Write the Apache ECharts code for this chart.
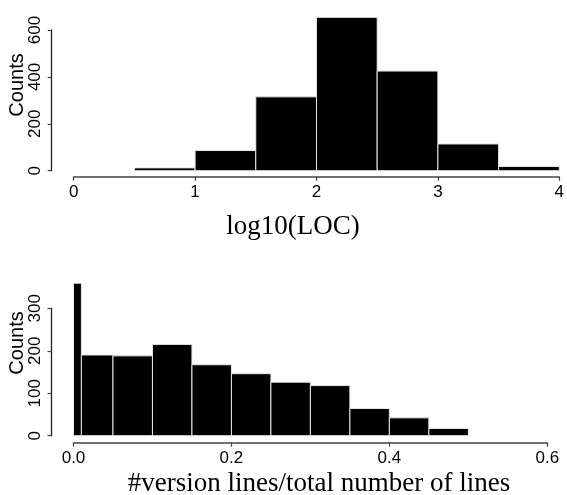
<!DOCTYPE html>
<html>
<head>
<meta charset="utf-8">
<script src="https://cdn.jsdelivr.net/npm/echarts@6/dist/echarts.min.js"></script>
<style>
  html, body { margin: 0; padding: 0; background: #fff; }
  #chart { width: 567px; height: 495px; }
</style>
</head>
<body>
<div id="chart"></div>
<script>
// top histogram: log10(LOC)
const locEdges = [0, 0.5, 1, 1.5, 2, 2.5, 3, 3.5, 4]
const locCounts = [0, 12, 86, 315, 654, 425, 114, 18]
const locTicks = [0, 1, 2, 3, 4]

// bottom histogram: version lines ratio
const ratioEdges = [0, 0.01, 0.05, 0.1, 0.15, 0.2, 0.25, 0.3, 0.35, 0.4, 0.45, 0.5]
const ratioCounts = [359, 190, 188, 215, 167, 146, 126, 118, 64, 42, 17]
const ratioTicks = [0, 0.2, 0.4, 0.6]

const toBins = (edges, counts) => counts.map((c, i) => [edges[i], edges[i + 1], c])

const renderBin = (params, api) => {
  // empty bins draw nothing
  if (!api.value(2)) {
    return null
  }
  const p0 = api.coord([api.value(0), 0])
  const p1 = api.coord([api.value(1), api.value(2)])
  return {
    type: 'rect',
    shape: { x: p0[0], y: p1[1], width: p1[0] - p0[0], height: p0[1] - p1[1] },
    style: { fill: '#000', stroke: '#e6e6e6', lineWidth: 1 }
  }
}

const tickFont = { color: '#000', fontFamily: 'Liberation Sans', fontSize: 17 }
const axisTick = { show: true, length: 4, lineStyle: { color: '#444', width: 1.2 } }

const xAxisFor = (gridIndex, ticks, digits, offset) => ({
  type: 'value',
  gridIndex,
  min: ticks[0],
  max: ticks[ticks.length - 1],
  interval: ticks[1] - ticks[0],
  offset,
  axisLine: { show: true, onZero: false, lineStyle: { color: '#444', width: 1.5 } },
  axisTick,
  splitLine: { show: false },
  axisLabel: Object.assign({ margin: 7, formatter: v => v.toFixed(digits) }, tickFont)
})

const yAxisFor = (gridIndex, max, interval) => ({
  type: 'value',
  gridIndex,
  min: 0,
  max,
  interval,
  offset: 22,
  axisLine: { show: true, onZero: false, lineStyle: { color: '#222', width: 1.3 } },
  axisTick,
  splitLine: { show: false },
  axisLabel: Object.assign({ rotate: 90, margin: 8 }, tickFont)
})

const titleStyle = (text, font) => ({ text, fill: '#000', font, align: 'center', verticalAlign: 'middle' })

const option = {
  animation: false,
  backgroundColor: '#fff',
  grid: [
    { left: 73.7, right: 1.3, top: 30, bottom: 324.3 },
    { left: 73.5, right: 19.7, top: 308.3, bottom: 59.3 }
  ],
  xAxis: [
    xAxisFor(0, locTicks, 0, 6),
    xAxisFor(1, ratioTicks, 1, 7)
  ],
  yAxis: [
    yAxisFor(0, 600, 200),
    yAxisFor(1, 300, 100)
  ],
  graphic: [
    { type: 'text', x: 17, y: 85, rotation: Math.PI / 2, style: titleStyle('Counts', '20px "Liberation Sans"') },
    { type: 'text', x: 17, y: 343, rotation: Math.PI / 2, style: titleStyle('Counts', '20px "Liberation Sans"') },
    { type: 'text', x: 293, y: 227, style: titleStyle('log10(LOC)', '27px "Liberation Serif"') },
    { type: 'text', x: 319, y: 484, style: titleStyle('#version lines/total number of lines', '27px "Liberation Serif"') }
  ],
  series: [
    { type: 'custom', xAxisIndex: 0, yAxisIndex: 0, clip: false,
      encode: { x: [0, 1], y: 2 }, renderItem: renderBin, data: toBins(locEdges, locCounts) },
    { type: 'custom', xAxisIndex: 1, yAxisIndex: 1, clip: false,
      encode: { x: [0, 1], y: 2 }, renderItem: renderBin, data: toBins(ratioEdges, ratioCounts) }
  ]
}

const myChart = echarts.init(document.getElementById('chart'))
myChart.setOption(option)
window.addEventListener('resize', () => {
  myChart.resize()
})
</script>
</body>
</html>
